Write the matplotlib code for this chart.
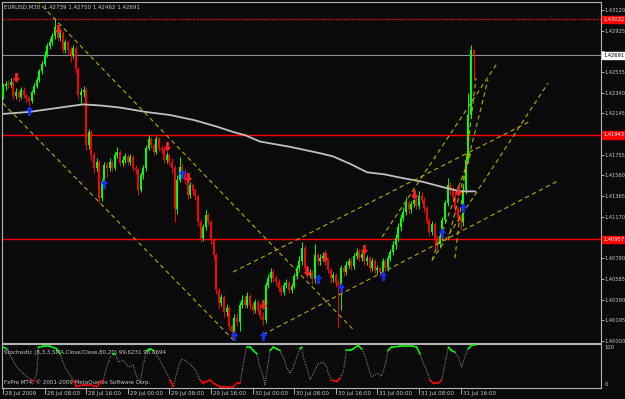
import matplotlib
matplotlib.use('Agg')
import matplotlib.pyplot as plt
from matplotlib.transforms import blended_transform_factory, ScaledTranslation

# --- colours / fonts ---
BG = '#0a0a0a'
FG = '#c8c8c8'
FRAME = '#b4b4b4'
BULL = '#00ff00'
BEAR = '#ff0000'
TL_COLOR = '#b8a800'
FS = 4.0
FS_SCALE = 3.7
plt.rcParams['font.family'] = ['Liberation Sans Narrow', 'DejaVu Sans Condensed', 'DejaVu Sans']
plt.rcParams['font.size'] = FS

# --- data (EURUSD M30, 28-31 Jul 2009) ---
symbol = 'EURUSD,M30'
last_ohlc = [1.42739, 1.42750, 1.42462, 1.42691]
first_open = 1.4230

closes = [
    1.4240, 1.4242, 1.4241, 1.4244, 1.4231, 1.4235, 1.4230, 1.4237, 1.4232, 1.4229,
    1.4226, 1.4235, 1.4240, 1.4246, 1.4254, 1.4261, 1.4270, 1.4278, 1.4282, 1.4287,
    1.4296, 1.4286, 1.4290, 1.4274, 1.4282, 1.4274, 1.4270, 1.4276, 1.4256, 1.4232,
    1.4235, 1.4237, 1.4185, 1.4197, 1.4175, 1.4163, 1.4169, 1.4135, 1.4150, 1.4166,
    1.4163, 1.4169, 1.4163, 1.4175, 1.4178, 1.4168, 1.4171, 1.4174, 1.4169, 1.4173,
    1.4163, 1.4161, 1.4142, 1.4156, 1.4163, 1.4182, 1.4190, 1.4185, 1.4178, 1.4190,
    1.4182, 1.4180, 1.4171, 1.4175, 1.4169, 1.4163, 1.4124, 1.4152, 1.4164, 1.4159,
    1.4152, 1.4138, 1.4147, 1.4141, 1.4137, 1.4112, 1.4097, 1.4107, 1.4119, 1.4112,
    1.4095, 1.4081, 1.4048, 1.4036, 1.4041, 1.4027, 1.4031, 1.4014, 1.4008, 1.4022,
    1.4018, 1.4034, 1.4039, 1.4034, 1.4042, 1.4034, 1.4029, 1.4037, 1.4029, 1.4024,
    1.4020, 1.4053, 1.4059, 1.4065, 1.4059, 1.4056, 1.4050, 1.4046, 1.4053, 1.4055,
    1.4048, 1.4052, 1.4061, 1.4069, 1.4075, 1.4088, 1.4069, 1.4062, 1.4065, 1.4058,
    1.4081, 1.4075, 1.4078, 1.4080, 1.4075, 1.4067, 1.4059, 1.4062, 1.4055, 1.4053,
    1.4069, 1.4065, 1.4072, 1.4075, 1.4071, 1.4080, 1.4084, 1.4078, 1.4082, 1.4075,
    1.4078, 1.4069, 1.4075, 1.4067, 1.4069, 1.4065, 1.4075, 1.4069, 1.4078, 1.4084,
    1.4090, 1.4097, 1.4107, 1.4116, 1.4122, 1.4130, 1.4124, 1.4129, 1.4133, 1.4127,
    1.4137, 1.4133, 1.4125, 1.4114, 1.4103, 1.4110, 1.4097, 1.4091, 1.4099, 1.4114,
    1.4130, 1.4147, 1.4142, 1.4136, 1.4124, 1.4116, 1.4112, 1.4142, 1.4171, 1.4213,
    1.4274, 1.42691,
]
highs = [
    1.4243, 1.4245, 1.4246, 1.4248, 1.4247, 1.4238, 1.4237, 1.4239, 1.4239, 1.4234,
    1.4231, 1.4237, 1.4243, 1.4249, 1.4256, 1.4264, 1.4273, 1.4281, 1.4286, 1.4290,
    1.4304, 1.4298, 1.4294, 1.4292, 1.4285, 1.4284, 1.4277, 1.4279, 1.4278, 1.4258,
    1.4238, 1.4240, 1.4239, 1.4200, 1.4199, 1.4178, 1.4172, 1.4171, 1.4153, 1.4169,
    1.4169, 1.4172, 1.4171, 1.4178, 1.4183, 1.4180, 1.4174, 1.4177, 1.4176, 1.4176,
    1.4175, 1.4166, 1.4163, 1.4159, 1.4166, 1.4185, 1.4194, 1.4192, 1.4187, 1.4193,
    1.4192, 1.4185, 1.4183, 1.4178, 1.4177, 1.4172, 1.4166, 1.4156, 1.4173, 1.4167,
    1.4162, 1.4155, 1.4150, 1.4149, 1.4144, 1.4139, 1.4115, 1.4110, 1.4123, 1.4121,
    1.4114, 1.4097, 1.4083, 1.4050, 1.4044, 1.4043, 1.4035, 1.4033, 1.4016, 1.4025,
    1.4026, 1.4037, 1.4043, 1.4042, 1.4046, 1.4044, 1.4037, 1.4040, 1.4039, 1.4036,
    1.4027, 1.4056, 1.4063, 1.4069, 1.4068, 1.4062, 1.4058, 1.4053, 1.4056, 1.4058,
    1.4057, 1.4055, 1.4064, 1.4072, 1.4080, 1.4093, 1.4090, 1.4072, 1.4068, 1.4067,
    1.4091, 1.4083, 1.4082, 1.4084, 1.4086, 1.4077, 1.4069, 1.4065, 1.4064, 1.4058,
    1.4072, 1.4072, 1.4075, 1.4078, 1.4078, 1.4083, 1.4088, 1.4087, 1.4085, 1.4088,
    1.4081, 1.4080, 1.4078, 1.4077, 1.4072, 1.4071, 1.4078, 1.4077, 1.4081, 1.4087,
    1.4094, 1.4101, 1.4111, 1.4120, 1.4126, 1.4136, 1.4133, 1.4132, 1.4136, 1.4138,
    1.4141, 1.4140, 1.4136, 1.4127, 1.4116, 1.4113, 1.4112, 1.4100, 1.4102, 1.4117,
    1.4133, 1.4154, 1.4150, 1.4145, 1.4139, 1.4127, 1.4119, 1.4146, 1.4175, 1.4234,
    1.4279, 1.42750,
]
lows = [
    1.4228, 1.4237, 1.4238, 1.4239, 1.4228, 1.4228, 1.4226, 1.4228, 1.4229, 1.4225,
    1.4222, 1.4224, 1.4233, 1.4238, 1.4244, 1.4252, 1.4259, 1.4268, 1.4275, 1.4279,
    1.4285, 1.4283, 1.4283, 1.4271, 1.4271, 1.4270, 1.4263, 1.4267, 1.4253, 1.4228,
    1.4224, 1.4230, 1.4180, 1.4181, 1.4170, 1.4158, 1.4160, 1.4130, 1.4132, 1.4148,
    1.4155, 1.4160, 1.4160, 1.4161, 1.4172, 1.4165, 1.4165, 1.4168, 1.4166, 1.4166,
    1.4160, 1.4157, 1.4138, 1.4140, 1.4153, 1.4160, 1.4180, 1.4182, 1.4175, 1.4176,
    1.4179, 1.4177, 1.4168, 1.4168, 1.4166, 1.4158, 1.4112, 1.4120, 1.4150, 1.4155,
    1.4148, 1.4134, 1.4135, 1.4138, 1.4133, 1.4108, 1.4093, 1.4094, 1.4105, 1.4109,
    1.4091, 1.4076, 1.4044, 1.4031, 1.4033, 1.4023, 1.4024, 1.4010, 1.4004, 1.4006,
    1.4014, 1.4009, 1.4031, 1.4031, 1.4031, 1.4030, 1.4025, 1.4026, 1.4026, 1.4021,
    1.4015, 1.4017, 1.4050, 1.4056, 1.4056, 1.4052, 1.4046, 1.4042, 1.4043, 1.4050,
    1.4045, 1.4045, 1.4050, 1.4058, 1.4066, 1.4072, 1.4066, 1.4059, 1.4059, 1.4054,
    1.4055, 1.4072, 1.4072, 1.4075, 1.4072, 1.4064, 1.4055, 1.4056, 1.4051, 1.4013,
    1.4029, 1.4061, 1.4062, 1.4069, 1.4067, 1.4068, 1.4077, 1.4075, 1.4075, 1.4072,
    1.4072, 1.4065, 1.4066, 1.4064, 1.4063, 1.4061, 1.4062, 1.4066, 1.4066, 1.4075,
    1.4081, 1.4087, 1.4094, 1.4104, 1.4113, 1.4119, 1.4120, 1.4121, 1.4126, 1.4124,
    1.4124, 1.4130, 1.4122, 1.4110, 1.4099, 1.4100, 1.4086, 1.4087, 1.4088, 1.4096,
    1.4111, 1.4127, 1.4138, 1.4132, 1.4120, 1.4112, 1.4105, 1.4108, 1.4139, 1.4168,
    1.4210, 1.42462,
]

# moving average (light grey curve), read at these bars
ma_bars = [0, 10.4, 21.9, 30.8, 37.3, 45, 54.6, 64.2, 73.8, 82.3, 88.5, 93.1, 98.8,
           110.4, 121.9, 126.9, 133.5, 140, 146.9, 152.7, 161.5, 170.8, 175.8, 181.5]
ma_vals = [1.4214, 1.4216, 1.4220, 1.4223, 1.4222, 1.4220, 1.4216, 1.4213, 1.4208,
           1.4202, 1.4197, 1.4194, 1.4188, 1.4183, 1.4177, 1.4174, 1.4167, 1.4159,
           1.4157, 1.4154, 1.4150, 1.4144, 1.4141, 1.4141]

# fractal arrows
up_fr_bars = [10, 39, 69, 89, 100, 121, 130, 146, 169, 177]
up_fr_vals = [1.4218, 1.4149, 1.4158, 1.4006, 1.4006, 1.4059, 1.4051, 1.4062, 1.4103, 1.4126]
dn_fr_bars = [5, 21, 63, 71, 100, 117, 124, 139, 158, 175]
dn_fr_vals = [1.4248, 1.4293, 1.4183, 1.4154, 1.4034, 1.4065, 1.4078, 1.4086, 1.4138, 1.4140]

# trend lines (start bar, start price, end bar, end price)
tl_b0 = [13, 0, 100, 88.5, 145.8, 165, 173.8, 171.2, 165]
tl_p0 = [1.4321, 1.4224, 1.4006, 1.4065, 1.4098, 1.4076, 1.4078, 1.4095, 1.4076]
tl_b1 = [135, 89, 213.5, 202.7, 190.4, 209.6, 181.9, 186.5, 180.4]
tl_p1 = [1.4010, 1.4000, 1.4151, 1.4207, 1.4263, 1.4243, 1.4248, 1.4246, 1.4180]

red_levels = [1.43032, 1.41943, 1.40957]
bid = 1.42691

# stochastic (8,3,3) main line, read at these bars
st_bars = [0.1, 1.4, 2.7, 5.3, 7.8, 9.1, 11.0, 11.7, 13.0, 13.6, 15.5, 18.1, 20.6, 21.9,
           23.8, 25.8, 27.0, 28.3, 30.9, 33.5, 36.0, 37.3, 38.6, 39.9, 41.2, 42.4, 43.1,
           44.4, 46.3, 48.2, 50.1, 51.4, 52.7, 54.0, 55.3, 56.5, 57.8, 59.1, 60.4, 63.0,
           64.2, 65.5, 67.4, 68.7, 70.0, 71.9, 74.5, 75.8, 77.0, 78.3, 79.6, 80.9, 83.5,
           88.6, 89.9, 91.2, 92.4, 93.7, 95.0, 96.3, 97.6, 98.8, 100.1, 100.8, 101.4,
           102.7, 104.0, 105.3, 106.5, 107.8, 109.1, 110.4, 111.7, 113.0, 114.2, 114.9,
           115.5, 116.8, 118.1, 119.4, 121.3, 123.2, 124.5, 125.1, 126.4, 128.3, 129.6,
           130.9, 132.1, 133.4, 134.7, 136.6, 137.9, 139.2, 140.5, 141.7, 143.0, 144.3,
           145.5, 146.8, 148.1, 149.4, 152.7, 157.8, 159.1, 160.4, 161.7, 163.0, 164.2,
           165.5, 167.4, 168.7, 170.0, 171.3, 172.5, 173.8, 175.1, 176.4, 177.6, 178.9,
           180.2, 181.5]
st_vals = [96, 92, 76, 48, 33, 25, 17, 13, 33, 96, 98, 98, 92, 80,
           48, 29, 17, 1, 5, 5, 1, 9, 17, 48, 72, 80, 80,
           60, 64, 48, 52, 25, 9, 56, 88, 92, 88, 76, 64, 33,
           17, 1, 48, 68, 64, 56, 37, 17, 9, 13, 17, 9, 1,
           1, 9, 9, 56, 96, 96, 88, 80, 48, 25, 5, 33,
           88, 96, 92, 88, 72, 48, 33, 48, 72, 92, 96,
           72, 48, 17, 33, 56, 60, 48, 33, 17, 13, 21,
           37, 88, 88, 92, 100, 92, 76, 48, 25, 29, 33,
           25, 48, 88, 96, 98, 98, 96, 80, 56, 40, 17,
           9, 9, 17, 56, 96, 88, 84, 72, 48, 72, 92,
           100, 100]

time_ticks = [0, 16, 32, 48, 64, 80, 96, 112, 128, 144, 160, 176]
time_labels = ['28 Jul 2009', '28 Jul 08:00', '28 Jul 16:00', '29 Jul 00:00',
               '29 Jul 08:00', '29 Jul 16:00', '30 Jul 00:00', '30 Jul 08:00',
               '30 Jul 16:00', '31 Jul 00:00', '31 Jul 08:00', '31 Jul 16:00']
price_ticks = [1.43120 - k * 0.00195 for k in range(17)]

# --- figure ---
W, H = 625, 399
fig = plt.figure(figsize=(W / 100, H / 100), dpi=100, facecolor=BG)
ax = fig.add_axes([2 / W, (H - 343) / H, 599 / W, 341 / H], facecolor=BG)
axs = fig.add_axes([2 / W, (H - 388) / H, 599 / W, 44 / H], facecolor=BG, sharex=ax)

for a in (ax, axs):
    for s in a.spines.values():
        s.set_color(FRAME)
        s.set_linewidth(0.8)

xs = list(range(len(closes)))
opens = [first_open] + closes[:-1]
opens[-1] = last_ohlc[0]

# --- candles ---
cols = [BULL if c >= o else BEAR for o, c in zip(opens, closes)]
ax.vlines(xs, lows, highs, colors=cols, lw=0.7, zorder=3)
bodies = [max(abs(c - o), 0.00004) for o, c in zip(opens, closes)]
bottoms = [min(o, c) for o, c in zip(opens, closes)]
ax.bar(xs, bodies, bottom=bottoms, width=0.72, color=cols, lw=0, zorder=3)

# --- levels ---
ax.axhline(red_levels[0], color=BEAR, lw=1.0, ls=(0, (1, 1)), zorder=2)
for lv in red_levels[1:]:
    ax.axhline(lv, color=BEAR, lw=1.0, zorder=2)
ax.axhline(bid, color='#8a8e9c', lw=0.8, zorder=2)

# --- moving average ---
ax.plot(ma_bars, ma_vals, color='#c0c0c0', lw=1.3, zorder=4)

# --- trend lines ---
for b0, p0, b1, p1 in zip(tl_b0, tl_p0, tl_b1, tl_p1):
    ax.plot([b0, b1], [p0, p1], color=TL_COLOR, lw=0.8, ls=(0, (4, 3)), zorder=5)

# --- fractal arrows ---
down_arrow = [(-0.22, 0.9), (0.22, 0.9), (0.22, 0.1), (0.6, 0.1), (0, -0.7),
              (-0.6, 0.1), (-0.22, 0.1), (-0.22, 0.9)]
up_arrow = [(x, -y) for x, y in down_arrow]
ax.plot(dn_fr_bars, dn_fr_vals, ls='none', marker=down_arrow, ms=8,
        color='#ff2020', mew=0, zorder=6)
ax.plot(up_fr_bars, up_fr_vals, ls='none', marker=up_arrow, ms=8,
        color='#1030ff', mew=0, zorder=6)

ax.set_xlim(-0.385, 230)
ax.set_ylim(1.39981, 1.43195)
ax.yaxis.tick_right()
ax.set_yticks(price_ticks)
# labels hidden behind the level boxes are left blank
hidden = [i for i, p in enumerate(price_ticks)
          if min(abs(p - lv) for lv in red_levels + [bid]) < 0.0006]
ax.set_yticklabels(['' if i in hidden else '%.5f' % p for i, p in enumerate(price_ticks)])
ax.tick_params(axis='y', colors=FG, length=2, width=0.6, pad=0.6, labelsize=FS_SCALE)
ax.tick_params(axis='x', bottom=False, labelbottom=False)

# level boxes on the price scale
tr = blended_transform_factory(ax.transAxes, ax.transData)
for lv in red_levels:
    ax.text(1.004, lv, '%.5f' % lv, transform=tr, color='white', fontsize=FS_SCALE,
            va='center', ha='left', zorder=10, clip_on=False,
            bbox=dict(boxstyle='square,pad=0.25', fc=BEAR, ec=BEAR))
ax.text(1.004, bid, '%.5f' % bid, transform=tr, color='black', fontsize=FS_SCALE,
        va='center', ha='left', zorder=10, clip_on=False,
        bbox=dict(boxstyle='square,pad=0.25', fc='white', ec='white'))

# header
fig.text(4 / W, 1 - 7 / H, '%s  %.5f %.5f %.5f %.5f' % (symbol, *last_ohlc),
         color=FG, fontsize=FS, va='center', ha='left')

# --- stochastic panel ---
axs.plot(st_bars, st_vals, color='#7a7a7a', lw=0.8, ls=(0, (1, 1)), zorder=3)
for i in range(len(st_vals) - 1):
    v0, v1 = st_vals[i], st_vals[i + 1]
    if v0 >= 78 and v1 >= 78:
        c = BULL
    elif v0 <= 22 and v1 <= 22:
        c = BEAR
    else:
        continue
    axs.plot(st_bars[i:i + 2], st_vals[i:i + 2], color=c, lw=1.1, zorder=4)

axs.set_ylim(-2.4, 103.6)
axs.set_yticks([])
trs = blended_transform_factory(axs.transAxes, axs.transData)
axs.text(1.006, 100, '100', transform=trs, color=FG, fontsize=FS_SCALE, va='top', ha='left')
axs.text(1.006, 0, '0', transform=trs, color=FG, fontsize=FS_SCALE, va='bottom', ha='left')
axs.text(0.004, 0.80, 'Stochastic (8,3,3,SMA,Close/Close,80,20) 99.6231 98.8694',
         transform=axs.transAxes, color=FG, fontsize=FS, va='center', ha='left')
axs.text(0.004, 0.14, 'FxPro MT4, © 2001-2009 MetaQuotes Software Corp.',
         transform=axs.transAxes, color=FG, fontsize=FS, va='center', ha='left')

axs.set_xticks(time_ticks)
axs.set_xticklabels(time_labels)
axs.tick_params(axis='x', colors=FG, length=4, width=0.6, pad=-2.0, labelsize=FS)
for lab in axs.get_xticklabels():
    lab.set_ha('left')
    lab.set_transform(lab.get_transform() + ScaledTranslation(2 / 100, 0, fig.dpi_scale_trans))

fig.savefig('out.png', dpi=100, facecolor=BG)
